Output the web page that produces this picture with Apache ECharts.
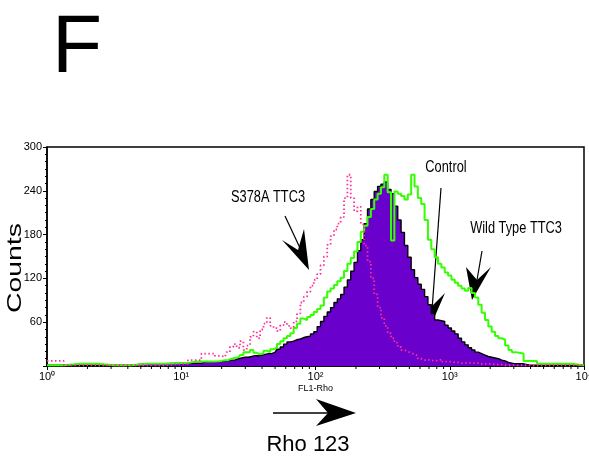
<!DOCTYPE html>
<html>
<head>
<meta charset="utf-8">
<script src="https://cdn.jsdelivr.net/npm/echarts@6/dist/echarts.min.js"></script>
<style>
html,body{margin:0;padding:0;background:#fff;}
#chart{width:589px;height:456px;}
</style>
</head>
<body>
<div id="chart"></div>
<script>
// FL1 (Rho 123) intensity, as log10 exponent (decades 10^0 .. 10^4)
const logFL1 = [0,0.25,0.5,0.75,1,1.1,1.2,
  1.300,1.325,1.350,1.375,1.400,1.425,1.450,1.475,1.500,1.525,1.550,1.575,1.600,1.625,1.650,1.675,1.700,1.725,1.750,1.775,
  1.800,1.825,1.850,1.875,1.900,1.925,1.950,1.975,2.000,2.025,2.050,2.075,2.100,2.125,2.150,2.175,2.200,2.225,2.250,2.275,
  2.300,2.325,2.350,2.375,2.400,2.425,2.450,2.475,2.500,2.525,2.550,2.575,2.600,2.625,2.650,2.675,2.700,2.725,2.750,2.775,
  2.800,2.825,2.850,2.875,2.900,2.925,2.950,2.975,3.000,3.025,3.050,3.075,3.100,3.125,3.150,3.175,3.200,3.225,3.250,3.275,
  3.300,3.325,3.350,3.375,3.400,3.425,3.450,3.475,3.500,
  3.6,3.7,3.8,4];
// Counts per series
const controlCounts = [1,1,1,3,4,4,6,
  6,7,7,8,8, 10,11,12,12,13, 14,14,15,16,17, 17,19,23,26,30, 33,34,36,37,39, 40,41,44,47,54,
  61,68,74,80,87, 92,98,108,118,130, 142,158,173,195,215, 228,239,246,249,252, 242,236,219,200,183,
  165,149,132,121,112, 105,95,84,72,63, 62,61,56,52,48, 44,38,33,29,25, 22,19,17,15,13, 12,11,10,8,7, 5,4,3,3,
  1,1,1,1];
const wildTypeCounts = [1,3,1,3,4,6,6,
  7,8,8,10,11, 12,15,19,19,22, 18,16,17,21,19, 23,25,30,34,38, 41,45,52,58,65, 63,67,70,74,78,
  83,94,102,106,111, 116,121,130,140,148, 157,170,184,192,204, 215,228,236,245,262, 238,172,239,236,233,
  228,235,262,246,230, 222,200,173,160,149, 140,135,128,124,118, 114,110,106,103,107, 100,94,84,73,63, 54,47,41,38,36, 28,22,19,17,
  7,3,3,1];
const s378aCounts = [7,1,1,1,3,8,17,
  14,12,19,26,30, 25,34,22,28,40, 47,38,50,58,66, 55,52,48,56,60, 55,52,61,72,87, 95,102,110,118,126,
  138,150,166,178,187, 195,204,230,262,230, 212,218,194,165,143, 120,98,80,66,55, 45,38,32,26,22,
  20,18,16,14,10, 8,9,7,8,7, 9,6,6,6,5, 5,4,4,5,4, 4,4,3,3,3, 3,2,2,2,1, 1,1,1,1,
  1,1,1,1];
// Axis tick labels
const xTickLabels = ['10\u2070','10\u00b9','10\u00b2','10\u00b3','10\u2074'];
const yTickLabels = ['','60','120','180','240','300'];
const seriesNames = ['Control','Wild Type TTC3','S378A TTC3'];

const zip = (xs, ys) => xs.map((x, i) => [x, ys[i]]);
const minorX = [];
for (let d = 0; d < 4; d++) for (let k = 2; k <= 9; k++) minorX.push([d + Math.log10(k)]);

const sans = '"Liberation Sans",Arial,Helvetica,sans-serif';

function arrowHead(tip, w1, notch, w2) {
  return {type:'polygon', shape:{points:[tip, w1, notch, w2]}, style:{fill:'#000'}, silent:true};
}
function seg(a, b, w) {
  return {type:'line', shape:{x1:a[0], y1:a[1], x2:b[0], y2:b[1]}, style:{stroke:'#000', lineWidth:w||1.2}, silent:true};
}
function narrowText(txt, x, y, size) {
  return {type:'text', x:x, y:y, scaleX:0.8, silent:true,
    style:{text:txt, fontFamily:sans, fontSize:size, fill:'#000', align:'center', verticalAlign:'middle'}};
}

const chart = echarts.init(document.getElementById('chart'), null, {renderer:'canvas'});
chart.setOption({
  animation:false,
  backgroundColor:'#fff',
  grid:{left:47, top:147, right:5, bottom:90, outerBoundsMode:'none', containLabel:false,
    show:true, borderColor:'#000', borderWidth:1.5, backgroundColor:'transparent'},
  xAxis:{
    type:'value', min:0, max:4, interval:1,
    name:'FL1-Rho', nameLocation:'middle', nameGap:18,
    nameTextStyle:{fontFamily:sans, fontSize:9, color:'#000'},
    axisLine:{show:true, lineStyle:{color:'#000', width:1.5}},
    axisTick:{show:true, length:4, lineStyle:{color:'#000'}},
    axisLabel:{fontFamily:sans, fontSize:11, color:'#000', margin:5,
      formatter:(v)=>xTickLabels[Math.round(v)]},
    splitLine:{show:false}
  },
  yAxis:{
    type:'value', min:0, max:300, interval:60,
    axisLine:{show:true, lineStyle:{color:'#000', width:1.5}},
    axisTick:{show:true, length:4, lineStyle:{color:'#000'}},
    minorTick:{show:true, splitNumber:6, length:2, lineStyle:{color:'#000'}},
    axisLabel:{fontFamily:sans, fontSize:11, color:'#000', margin:5,
      formatter:(v)=>yTickLabels[Math.round(v/60)]},
    splitLine:{show:false}
  },
  series:[
    {name:seriesNames[0], type:'line', step:'middle', data:zip(logFL1, controlCounts), showSymbol:false, z:2,
      lineStyle:{color:'#000', width:1.4}, areaStyle:{color:'#6a00cc', opacity:1}},
    {name:seriesNames[1], type:'line', step:'middle', data:zip(logFL1, wildTypeCounts), showSymbol:false, z:3,
      lineStyle:{color:'#33ff00', width:2}},
    {name:seriesNames[2], type:'line', step:'middle', data:zip(logFL1, s378aCounts), showSymbol:false, z:4,
      lineStyle:{color:'#ff2d96', width:1.8, type:[1.5,2.5]}},
    {type:'custom', data:minorX, silent:true, clip:false, encode:{x:0}, z:5,
      renderItem:(params, api)=>{
        const p = api.coord([api.value(0), 0]);
        return {type:'line', shape:{x1:p[0], y1:p[1], x2:p[0], y2:p[1]+3}, style:{stroke:'#000', lineWidth:1}};
      }}
  ],
  graphic:[
    {type:'text', left:52, top:8, silent:true, style:{text:'F', fontFamily:sans, fontSize:82, fill:'#000'}},
    {type:'text', x:15, y:268, rotation:Math.PI/2, scaleX:1.35, silent:true,
      style:{text:'Counts', fontFamily:sans, fontSize:21, fill:'#000', align:'center', verticalAlign:'middle'}},
    narrowText(seriesNames[2], 268, 198, 16),
    seg([285,216],[300,248]),
    arrowHead([309,270],[282,240],[298,250],[304,229]),
    narrowText(seriesNames[0], 446, 168, 16),
    seg([441,188],[432,310]),
    arrowHead([428,332],[419,295],[431,307],[445,293]),
    narrowText(seriesNames[1], 516, 229, 16),
    seg([482,251],[477,280]),
    arrowHead([472,300],[466,267],[477,280],[491,267]),
    seg([273,413],[330,413], 1.5),
    arrowHead([356,413],[316,399],[328,413],[316,426]),
    {type:'text', x:308, y:445, silent:true, style:{text:'Rho 123', fontFamily:sans, fontSize:22, fill:'#000', align:'center', verticalAlign:'middle'}}
  ]
});
</script>
</body>
</html>
